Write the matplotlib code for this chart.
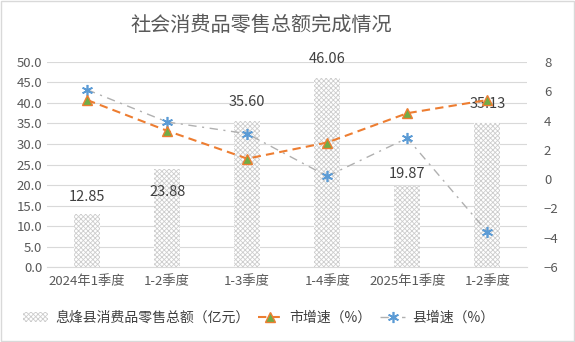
import matplotlib.pyplot as plt
import numpy as np

plt.rcParams['font.family'] = ['Noto Sans CJK SC', 'DejaVu Sans']
plt.rcParams['hatch.linewidth'] = 0.6

# data
categories = ["2024年1季度", "1-2季度", "1-3季度", "1-4季度", "2025年1季度", "1-2季度"]
county_sales = [12.85, 23.88, 35.60, 46.06, 19.87, 35.13]
city_growth = [5.4, 3.3, 1.4, 2.5, 4.5, 5.4]
county_growth = [6.1, 3.9, 3.1, 0.2, 2.8, -3.6]

# label offsets in pixels (as placed in the original)
label_offsets = [17, -23, 19, 19, 12, 19]

fig = plt.figure(figsize=(5.75, 3.42), dpi=100)
ax = fig.add_axes([0.082, 0.219, 0.835, 0.60])
ax2 = ax.twinx()

x = np.arange(len(categories))
bars = ax.bar(x, county_sales, width=0.32, color='white', edgecolor='#cdcdcd',
              hatch='xxxxxxx', linewidth=0, label='息烽县消费品零售总额（亿元）', zorder=2)

for xi, v, off in zip(x, county_sales, label_offsets):
    ax.annotate(f"{v:.2f}", (xi, v), xytext=(0, off * 0.72), textcoords='offset points',
                ha='center', va='center', fontsize=10.5, color='#404040', zorder=5)

ax2.plot(x, city_growth, color='#ED7D31', linestyle='--', linewidth=1.5, marker='^',
         markersize=6.5, markerfacecolor='#70AD47', markeredgecolor='#ED7D31',
         markeredgewidth=1, dashes=(4, 2.5), label='市增速（%）', zorder=4)
ax2.plot(x, county_growth, color='#b0b0b0', linewidth=1.0, marker=(6, 2, 0),
         markersize=8, markeredgecolor='#5B9BD5', markeredgewidth=1.2,
         dashes=(6, 4, 1.5, 4), label='县增速（%）', zorder=3)

ax.set_xlim(-0.5, len(categories) - 0.5)
ax.set_ylim(0, 50)
ax.set_yticks(np.arange(0, 51, 5))
ax.set_yticklabels([f"{t:.1f}" for t in np.arange(0, 51, 5)])
ax2.set_ylim(-6, 8)
ax2.set_yticks(np.arange(-6, 9, 2))

ax.set_xticks(x)
ax.set_xticklabels(categories)
ax.grid(axis='y', color='#d9d9d9', linewidth=0.8, zorder=0)
ax.set_axisbelow(True)

for a in (ax, ax2):
    for s in a.spines.values():
        s.set_visible(False)
    a.tick_params(length=0, labelsize=9.5, colors='#595959')
ax.spines['bottom'].set_visible(True)
ax.spines['bottom'].set_color('#d9d9d9')
ax.tick_params(axis='x', pad=6)
ax2.tick_params(axis='y', pad=12)

fig.text(0.455, 0.925, "社会消费品零售总额完成情况", ha='center', va='center',
         fontsize=14.5, color='#595959')

h1, l1 = ax.get_legend_handles_labels()
h2, l2 = ax2.get_legend_handles_labels()
fig.legend(h1 + h2, l1 + l2, loc='center', bbox_to_anchor=(0.45, 0.07), ncol=3,
           frameon=False, fontsize=10, handlelength=1.8, columnspacing=0.6,
           handletextpad=0.5, labelcolor='#404040')

border = plt.Rectangle((0.002, 0.003), 0.996, 0.994, transform=fig.transFigure,
                       fill=False, edgecolor='#d9d9d9', linewidth=1)
fig.patches.append(border)

fig.savefig("out.png", dpi=100)
